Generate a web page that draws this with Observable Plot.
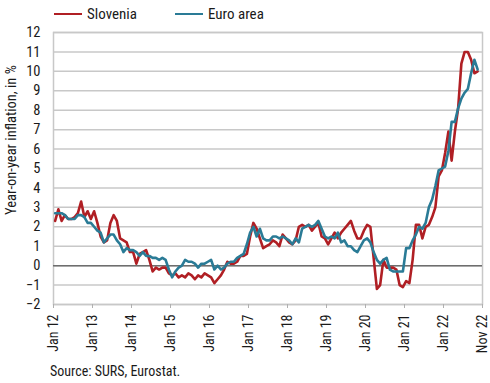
<!DOCTYPE html>
<html><head><meta charset="utf-8">
<script src="https://cdn.jsdelivr.net/npm/d3@7"></script>
<script src="https://cdn.jsdelivr.net/npm/@observablehq/plot@0.6"></script>
<style>
body{margin:0;background:#fff;font-family:"Liberation Sans Narrow","Roboto Condensed","Liberation Sans",sans-serif;color:#1a1a1a;}
#wrap{position:relative;width:490px;height:383px;overflow:hidden;}
#legend{position:absolute;left:0;top:0;width:490px;height:14px;z-index:2;}
.item{position:absolute;top:5px;display:flex;align-items:center;font-size:15px;line-height:18px;background:transparent;}
.sw{width:28px;height:2.5px;margin-right:5px;}
#chart{position:absolute;left:0;top:14px;}
#ylab{position:absolute;left:11px;top:140px;transform:translate(-50%,-50%) rotate(-90deg);white-space:nowrap;font-size:14.5px;z-index:2;}
#src{position:absolute;left:50px;top:363px;font-size:14px;}
</style></head>
<body>
<div id="wrap">
  <div id="chart"></div>
  <div id="legend"></div>
  <div id="ylab">Year-on-year inflation, in %</div>
  <div id="src">Source: SURS, Eurostat.</div>
</div>
<script>
const seriesNames = ["Slovenia", "Euro area"];
const seriesColors = ["#b01f24", "#2a7b96"];
const tickLabels = ["Jan 12","Jan 13","Jan 14","Jan 15","Jan 16","Jan 17","Jan 18","Jan 19","Jan 20","Jan 21","Jan 22","Nov 22"];
const yTicks = [-2,-1,0,1,2,3,4,5,6,7,8,9,10,11,12];

const slovenia = [
  2.3,2.9,2.3,2.6,2.4,2.4,2.5,2.7,3.3,2.5,2.8,2.4,
  2.8,2.2,1.5,1.2,1.3,2.2,2.6,2.3,1.4,1.3,1.2,0.7,
  0.7,0.1,0.6,0.7,0.8,0.3,-0.3,-0.1,-0.2,-0.1,-0.1,-0.4,
  -0.5,-0.4,-0.6,-0.5,-0.6,-0.4,-0.5,-0.7,-0.5,-0.6,-0.4,-0.5,
  -0.6,-0.9,-0.7,-0.5,-0.2,0.2,0.1,0.1,0.2,0.5,0.5,0.6,
  1.5,2.2,1.9,1.4,0.9,1.0,1.1,1.3,1.2,1.0,1.6,1.4,
  1.2,1.1,1.3,2.0,2.1,2.0,2.1,1.8,2.0,2.2,1.5,1.4,
  1.1,1.4,1.7,1.4,1.7,1.9,2.1,2.3,1.8,1.4,1.4,1.8,
  2.1,2.0,0.4,-1.2,-1.0,0.3,-0.1,-0.1,-0.1,-0.2,-1.0,-1.1,
  -0.8,-0.9,0.3,2.1,2.1,1.4,2.0,2.1,2.5,3.0,4.6,4.9,
  5.8,6.9,5.4,6.9,8.1,10.4,11.0,11.0,10.6,9.9,10.0
];
const euroArea = [
  2.7,2.7,2.7,2.6,2.4,2.4,2.4,2.6,2.6,2.5,2.2,2.2,
  2.0,1.8,1.7,1.2,1.4,1.6,1.6,1.3,1.1,0.7,0.9,0.8,
  0.8,0.7,0.5,0.7,0.5,0.5,0.4,0.4,0.3,0.4,0.3,-0.2,
  -0.6,-0.3,-0.1,0.0,0.3,0.2,0.2,0.1,-0.1,0.1,0.1,0.2,
  0.3,-0.2,0.0,-0.2,-0.1,0.1,0.2,0.2,0.4,0.5,0.6,1.1,
  1.7,2.0,1.5,1.9,1.4,1.3,1.3,1.5,1.5,1.4,1.5,1.4,
  1.3,1.1,1.4,1.2,1.9,2.0,2.1,2.0,2.1,2.3,1.9,1.5,
  1.4,1.5,1.4,1.7,1.2,1.3,1.0,1.0,0.8,0.7,1.0,1.3,
  1.4,1.2,0.7,0.3,0.1,0.3,0.4,-0.2,-0.3,-0.3,-0.3,-0.3,
  0.9,0.9,1.3,1.6,2.0,1.9,2.2,3.0,3.4,4.1,4.9,5.0,
  5.1,5.9,7.4,7.4,8.1,8.6,8.9,9.1,9.9,10.6,10.1
];

// legend
const legend = document.getElementById("legend");
const legendLeft = [54, 175];
seriesNames.forEach((n, k) => {
  const it = document.createElement("div");
  it.className = "item";
  it.style.left = legendLeft[k] + "px";
  it.innerHTML = `<span class="sw" style="background:${seriesColors[k]}"></span><span>${n}</span>`;
  legend.appendChild(it);
});

const rows = [];
slovenia.forEach((v, i) => rows.push({m: i + 0.5, v, s: "Slovenia"}));
euroArea.forEach((v, i) => rows.push({m: i + 0.5, v, s: "Euro area"}));
const tickPos = tickLabels.map((d, k) => k * 12);

const chart = Plot.plot({
  width: 490, height: 348,
  marginTop: 18, marginBottom: 58, marginLeft: 53, marginRight: 8,
  style: {fontFamily: '"Liberation Sans Narrow","Roboto Condensed","Liberation Sans",sans-serif', fontSize: "14px", color: "#1a1a1a", background: "transparent"},
  x: {domain: [0, 132], axis: null},
  y: {domain: [-2, 12], axis: null},
  color: {domain: seriesNames, range: seriesColors},
  marks: [
    Plot.gridY(yTicks, {stroke: "#c8c8c8", strokeOpacity: 1, strokeWidth: 1.5}),
    Plot.frame({stroke: "#c8c8c8", strokeWidth: 1.5}),
    Plot.ruleY([0], {stroke: "#6e6e6e", strokeWidth: 1.5}),
    Plot.axisY(yTicks, {tickSize: 0, tickPadding: 13, label: null, fontSize: 14.5}),
    Plot.axisX(tickPos, {tickFormat: d => tickLabels[d / 12], tickRotate: -90, tickSize: 4, tickPadding: 6, stroke: "#b0b0b0", fill: "#1a1a1a", label: null, fontSize: 14}),
    Plot.line(rows, {x: "m", y: "v", stroke: "s", z: "s", strokeWidth: 2.6})
  ]
});
document.getElementById("chart").appendChild(chart);
</script>
</body></html>
